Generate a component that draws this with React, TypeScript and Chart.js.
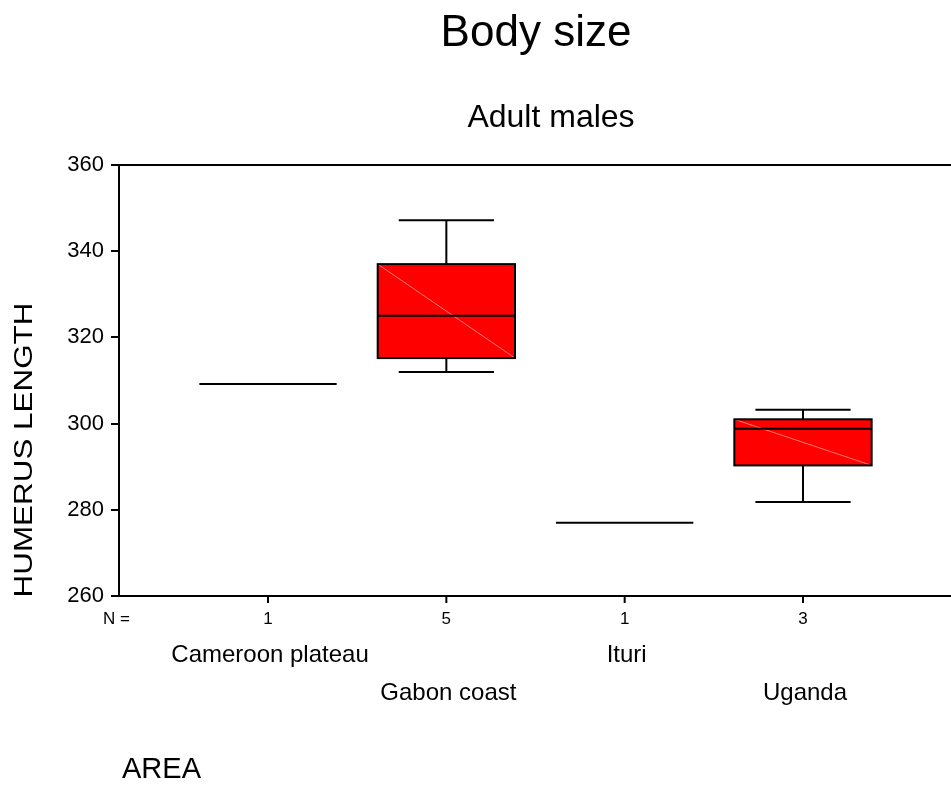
import React, { useEffect, useRef } from "react";
import { Chart, registerables } from "chart.js";

Chart.register(...registerables);

const categories = ["Cameroon plateau", "Gabon coast", "Ituri", "Uganda"];
const counts = [1, 5, 1, 3];
const mins = [309.2, 312.0, 277.0, 281.8];
const q1s = [309.2, 315.2, 277.0, 290.3];
const medians = [309.2, 325.0, 277.0, 298.8];
const q3s = [309.2, 337.0, 277.0, 301.0];
const maxs = [309.2, 347.2, 277.0, 303.2];
const yTicks = [260, 280, 300, 320, 340, 360];

const FONT = "'Liberation Sans', Arial, sans-serif";
const BOX_HALF = 0.385;
const CAP_HALF = 0.267;

const boxPlugin = {
  id: "boxDraw",
  afterDatasetsDraw(chart: any) {
    const { ctx, scales, chartArea } = chart;
    const x = scales.x;
    const y = scales.y;
    ctx.save();
    // top frame line
    ctx.strokeStyle = "#000";
    ctx.lineWidth = 2;
    ctx.beginPath();
    ctx.moveTo(chartArea.left - 1, y.getPixelForValue(360));
    ctx.lineTo(chart.width, y.getPixelForValue(360));
    ctx.stroke();

    categories.forEach((_, i) => {
      const xl = x.getPixelForValue(i - BOX_HALF);
      const xr = x.getPixelForValue(i + BOX_HALF);
      const xc = x.getPixelForValue(i);
      const cl = x.getPixelForValue(i - CAP_HALF);
      const cr = x.getPixelForValue(i + CAP_HALF);
      const pMin = y.getPixelForValue(mins[i]);
      const pQ1 = y.getPixelForValue(q1s[i]);
      const pMed = y.getPixelForValue(medians[i]);
      const pQ3 = y.getPixelForValue(q3s[i]);
      const pMax = y.getPixelForValue(maxs[i]);
      ctx.strokeStyle = "#000";
      ctx.lineWidth = 2;
      if (counts[i] === 1) {
        ctx.beginPath();
        ctx.moveTo(xl, pMed);
        ctx.lineTo(xr, pMed);
        ctx.stroke();
        return;
      }
      // whiskers
      ctx.beginPath();
      ctx.moveTo(xc, pMax);
      ctx.lineTo(xc, pQ3);
      ctx.moveTo(xc, pQ1);
      ctx.lineTo(xc, pMin);
      ctx.moveTo(cl, pMax);
      ctx.lineTo(cr, pMax);
      ctx.moveTo(cl, pMin);
      ctx.lineTo(cr, pMin);
      ctx.stroke();
      // box
      ctx.fillStyle = "#ff0000";
      ctx.fillRect(xl, pQ3, xr - xl, pQ1 - pQ3);
      // faint diagonal
      ctx.strokeStyle = "rgba(255,150,150,0.8)";
      ctx.lineWidth = 1;
      ctx.beginPath();
      ctx.moveTo(xl, pQ3);
      ctx.lineTo(xr, pQ1);
      ctx.stroke();
      ctx.strokeStyle = "#000";
      ctx.lineWidth = 2;
      ctx.strokeRect(xl, pQ3, xr - xl, pQ1 - pQ3);
      ctx.beginPath();
      ctx.moveTo(xl, pMed);
      ctx.lineTo(xr, pMed);
      ctx.stroke();
    });

    // x tick marks + labels
    const axisY = y.getPixelForValue(260);
    ctx.fillStyle = "#000";
    ctx.lineWidth = 2;
    ctx.textBaseline = "alphabetic";
    ctx.font = `17px ${FONT}`;
    ctx.textAlign = "left";
    ctx.fillText("N =", 103, axisY + 28);
    categories.forEach((c, i) => {
      const xc = x.getPixelForValue(i);
      ctx.beginPath();
      ctx.moveTo(xc, axisY);
      ctx.lineTo(xc, axisY + 7);
      ctx.stroke();
      ctx.font = `17px ${FONT}`;
      ctx.textAlign = "center";
      ctx.fillText(String(counts[i]), xc, axisY + 28);
      ctx.font = `24px ${FONT}`;
      ctx.fillText(c, xc + 2, axisY + (i % 2 === 0 ? 66 : 104));
    });

    // titles
    ctx.textAlign = "center";
    ctx.font = `44px ${FONT}`;
    ctx.fillText("Body size", 536, 46);
    ctx.font = `32px ${FONT}`;
    ctx.fillText("Adult males", 551, 127);
    ctx.textAlign = "left";
    ctx.font = `29px ${FONT}`;
    ctx.fillText("AREA", 122, 778);

    // y title
    ctx.save();
    ctx.translate(32, 450);
    ctx.rotate(-Math.PI / 2);
    ctx.font = `26px ${FONT}`;
    const w = ctx.measureText("HUMERUS LENGTH").width;
    ctx.scale(295 / w, 1);
    ctx.textAlign = "center";
    ctx.textBaseline = "alphabetic";
    ctx.fillText("HUMERUS LENGTH", 0, 0);
    ctx.restore();

    ctx.restore();
  },
};

export default function App() {
  const ref = useRef<HTMLCanvasElement | null>(null);
  useEffect(() => {
    document.body.style.margin = "0";
    const canvas = ref.current!;
    const chart = new Chart(canvas, {
      type: "scatter",
      data: {
        datasets: [
          {
            data: categories.map((_, i) => ({ x: i, y: medians[i] })),
            pointRadius: 0,
            showLine: false,
          },
        ],
      },
      options: {
        animation: false,
        responsive: false,
        maintainAspectRatio: false,
        layout: { padding: { top: 165, left: 0, right: 0, bottom: 0 } },
        plugins: {
          legend: { display: false },
          tooltip: { enabled: false },
          title: { display: false },
        },
        scales: {
          x: {
            type: "linear",
            min: -0.8357,
            max: 3.83,
            afterBuildTicks: (s: any) => {
              s.ticks = [];
            },
            ticks: { display: false },
            grid: { display: false },
            border: { display: true, color: "#000", width: 2 },
            afterFit: (s: any) => {
              s.height = 194;
            },
          },
          y: {
            type: "linear",
            min: 260,
            max: 360,
            afterBuildTicks: (s: any) => {
              s.ticks = yTicks.map((v) => ({ value: v }));
            },
            ticks: {
              color: "#000",
              font: { family: FONT, size: 22 },
              padding: 7,
            },
            grid: {
              drawOnChartArea: false,
              drawTicks: true,
              tickLength: 8,
              color: "#000",
              lineWidth: 2,
            },
            border: { display: true, color: "#000", width: 2 },
            afterFit: (s: any) => {
              s.width = 119;
            },
          },
        },
      },
      plugins: [boxPlugin],
    } as any);
    return () => chart.destroy();
  }, []);
  return (
    <div style={{ position: "absolute", left: 0, top: 0, width: 951, height: 790, background: "#fff" }}>
      <canvas ref={ref} width={951} height={790} style={{ width: 951, height: 790 }} />
    </div>
  );
}
